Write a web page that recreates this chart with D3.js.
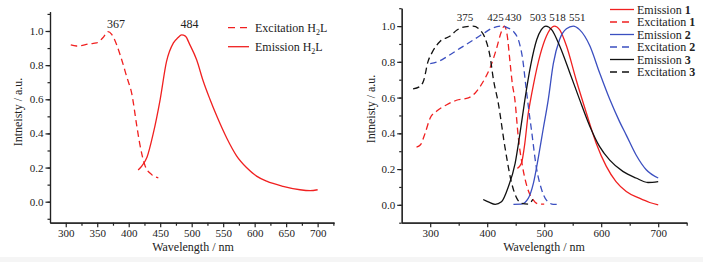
<!DOCTYPE html>
<html>
<head>
<meta charset="utf-8">
<script src="https://cdn.jsdelivr.net/npm/d3@7"></script>
<style>
  body { margin: 0; background: #f5f5f5; }
  svg { display: block; font-family: "Liberation Serif", "Times New Roman", serif; }
  .axis path, .axis line { stroke: #222; stroke-width: 1.2; }
  .axis text { font-size: 11px; fill: #222; }
</style>
</head>
<body>
<div id="chart"></div>
<script>
// ---- left panel: H2L ----
const excH2L = [[308,0.918],[317,0.912],[338,0.925],[349,0.93],[359,0.96],[367,0.996],[373,0.98],[381,0.918],[389,0.83],[397,0.73],[405,0.63],[413,0.44],[418,0.33],[426,0.21],[436,0.16],[447,0.14]];
const emH2L = [[415,0.186],[421,0.21],[429,0.26],[439,0.40],[450,0.60],[460,0.82],[471,0.93],[478,0.96],[484,0.977],[490,0.97],[497,0.92],[508,0.83],[518,0.71],[529,0.60],[540,0.50],[556,0.37],[571,0.27],[587,0.20],[603,0.15],[619,0.12],[645,0.09],[672,0.07],[688,0.065],[700,0.07]];
const leftPeaks = ["367", "484"];
const leftPeakNm = [367, 484];

// ---- right panel: complexes 1-3 ----
const em1 = [[453,0.204],[460,0.232],[466,0.344],[472,0.51],[476,0.586],[481,0.67],[493,0.84],[504,0.944],[510,0.98],[518,1.0],[527,0.98],[539,0.89],[556,0.70],[574,0.514],[591,0.346],[609,0.215],[626,0.13],[644,0.075],[667,0.037],[685,0.013],[700,0.0]];
const exc1 = [[276,0.323],[283,0.336],[291,0.40],[300,0.486],[311,0.523],[329,0.56],[346,0.585],[367,0.598],[379,0.626],[393,0.69],[405,0.766],[416,0.87],[425,0.97],[430,1.0],[435,0.95],[440,0.80],[444,0.68],[448.5,0.59],[454.5,0.38],[462,0.214],[470,0.10],[480,0.03],[491,0.004],[500,0.004]];
const em2 = [[446,0.003],[460,0.004],[472,0.036],[481,0.12],[490,0.27],[498,0.42],[507,0.586],[516,0.79],[527,0.925],[539,0.985],[551,1.0],[562,0.98],[580,0.89],[597,0.74],[615,0.59],[632,0.467],[644,0.39],[661,0.28],[679,0.196],[700,0.15]];
const exc2 = [[300,0.79],[313,0.80],[330,0.83],[352,0.875],[377,0.925],[394,0.96],[410,0.99],[425,1.0],[436,0.99],[446,0.97],[456,0.91],[462,0.82],[468,0.66],[473,0.53],[478,0.41],[486,0.214],[495,0.09],[504,0.026],[516,0.003],[524,0.003]];
const em3 = [[393,0.03],[403,0.015],[414,0.003],[425,0.017],[437,0.10],[449,0.232],[457.5,0.40],[466,0.586],[476,0.776],[487,0.925],[495,0.98],[503,1.0],[513,0.98],[527,0.89],[545,0.738],[562,0.59],[580,0.44],[597,0.327],[615,0.25],[638,0.187],[661,0.15],[682,0.125],[700,0.13]];
const exc3 = [[270,0.649],[281,0.66],[289,0.70],[296,0.80],[303,0.85],[318,0.916],[335,0.944],[347,0.978],[361,0.996],[375,1.0],[387,0.98],[396,0.935],[405,0.83],[411,0.70],[419.5,0.568],[431,0.325],[443,0.12],[452,0.036],[460.5,0.008],[472,0.004],[480,0.03]];
const rightPeaks = ["375", "425", "430", "503", "518", "551"];
const rightPeakNm = [375, 425, 430, 503, 518, 551];

const yTicks = [0, 0.2, 0.4, 0.6, 0.8, 1.0];

const RED = "#f02020", BLUE = "#3b4fc0", BLACK = "#111";
const SERIF = "Liberation Serif, Times New Roman, serif";

const W = 703, H = 262;
const svg = d3.select("#chart").append("svg").attr("width", W).attr("height", H);
svg.append("rect").attr("x", 0).attr("y", 0).attr("width", 340).attr("height", 257).attr("fill", "#fff");
svg.append("rect").attr("x", 340).attr("y", 0).attr("width", 363).attr("height", 257).attr("fill", "#fff");

const line = (x, y) => d3.line().x(d => x(d[0])).y(d => y(d[1])).curve(d3.curveMonotoneX);

function styleAxis(g) {
    g.attr("font-family", SERIF).attr("font-size", 11);
}

function drawAxes(x, y, xMajor, xMinor, titleX, titleY, titleYX) {
    const x0 = x.range()[0];
    const yb = y.range()[0];

    svg.append("g").attr("class", "axis")
        .attr("transform", `translate(0,${yb})`)
        .call(d3.axisBottom(x).tickValues(xMinor).tickSize(3).tickSizeOuter(0).tickFormat(""));
    svg.append("g").attr("class", "axis")
        .attr("transform", `translate(0,${yb})`)
        .call(d3.axisBottom(x).tickValues(xMajor).tickSize(4.5).tickSizeOuter(0).tickPadding(2).tickFormat(d3.format("d")))
        .call(styleAxis);

    const yMinor = d3.range(-0.1, 1.11, 0.1).map(v => +v.toFixed(1));
    svg.append("g").attr("class", "axis")
        .attr("transform", `translate(${x0},0)`)
        .call(d3.axisLeft(y).tickValues(yMinor).tickSize(2.5).tickSizeOuter(0).tickFormat(""));
    svg.append("g").attr("class", "axis")
        .attr("transform", `translate(${x0},0)`)
        .call(d3.axisLeft(y).tickValues(yTicks).tickSize(4.5).tickSizeOuter(0).tickPadding(2).tickFormat(d3.format(".1f")))
        .call(styleAxis);

    svg.append("text").attr("x", titleX).attr("y", 250.5)
        .attr("text-anchor", "middle").attr("font-size", 12).attr("fill", "#222")
        .text("Wavelength / nm");
    svg.append("text")
        .attr("transform", `translate(${titleYX},${titleY}) rotate(-90)`)
        .attr("text-anchor", "middle").attr("font-size", 12).attr("fill", "#222")
        .text("Intneisty / a.u.");
}

function drawSeries(x, y, data, color, dashed) {
    svg.append("path").datum(data)
        .attr("fill", "none").attr("stroke", color).attr("stroke-width", 1.3)
        .attr("stroke-dasharray", dashed ? "6.5,4" : null)
        .attr("d", line(x, y));
}

// ---------- left panel ----------
const xL = d3.scaleLinear().domain([275, 726]).range([50, 334]);
const yL = d3.scaleLinear().domain([-0.123, 1.113]).range([222.7, 11.7]);
drawAxes(xL, yL, d3.range(300, 701, 50), d3.range(325, 726, 50), 193, 112, 22);
drawSeries(xL, yL, excH2L, RED, true);
drawSeries(xL, yL, emH2L, RED, false);

const leftDx = [8, 8];
leftPeaks.forEach((t, i) => {
    svg.append("text").attr("x", xL(leftPeakNm[i]) + leftDx[i]).attr("y", yL(1.0) - 2.5)
        .attr("text-anchor", "middle").attr("font-size", 12).attr("fill", "#222").text(t);
});

const leftLegend = [
    {name: "Excitation ", dashed: true},
    {name: "Emission ", dashed: false}
];
leftLegend.forEach((d, i) => {
    const yy = 27.7 + i * 19;
    svg.append("line").attr("x1", 228).attr("x2", 249).attr("y1", yy).attr("y2", yy)
        .attr("stroke", RED).attr("stroke-width", 1.3)
        .attr("stroke-dasharray", d.dashed ? "7,5" : null);
    const t = svg.append("text").attr("x", 255).attr("y", yy + 4)
        .attr("font-size", 12).attr("fill", "#222");
    t.append("tspan").text(d.name + "H");
    t.append("tspan").attr("font-size", 8).attr("dy", 3).text("2");
    t.append("tspan").attr("dy", -3).text("L");
});

// ---------- right panel ----------
const xR = d3.scaleLinear().domain([250, 750]).range([401.7, 686.7]);
const yR = d3.scaleLinear().domain([-0.1, 1.1]).range([222.7, 8.2]);
drawAxes(xR, yR, d3.range(300, 701, 100), d3.range(350, 751, 100), 544, 109, 375);

const rightSeries = [
    {name: "Emission ", num: "1", data: em1, color: RED, dashed: false},
    {name: "Excitation ", num: "1", data: exc1, color: RED, dashed: true},
    {name: "Emission ", num: "2", data: em2, color: BLUE, dashed: false},
    {name: "Excitation ", num: "2", data: exc2, color: BLUE, dashed: true},
    {name: "Emission ", num: "3", data: em3, color: BLACK, dashed: false},
    {name: "Excitation ", num: "3", data: exc3, color: BLACK, dashed: true}
];
rightSeries.forEach(s => drawSeries(xR, yR, s.data, s.color, s.dashed));

const rightDx = [-8, -6, 9, -8, 3, 4];
rightPeaks.forEach((t, i) => {
    svg.append("text").attr("x", xR(rightPeakNm[i]) + rightDx[i]).attr("y", yR(1.0) - 5)
        .attr("text-anchor", "middle").attr("font-size", 11).attr("fill", "#222").text(t);
});

rightSeries.forEach((s, i) => {
    const yy = 9.5 + i * 12.5;
    svg.append("line").attr("x1", 610).attr("x2", 634).attr("y1", yy).attr("y2", yy)
        .attr("stroke", s.color).attr("stroke-width", 1.3)
        .attr("stroke-dasharray", s.dashed ? "7,5" : null);
    const t = svg.append("text").attr("x", 637).attr("y", yy + 4)
        .attr("font-size", 12).attr("fill", "#222");
    t.append("tspan").text(s.name);
    t.append("tspan").attr("font-weight", "bold").text(s.num);
});
</script>
</body>
</html>
